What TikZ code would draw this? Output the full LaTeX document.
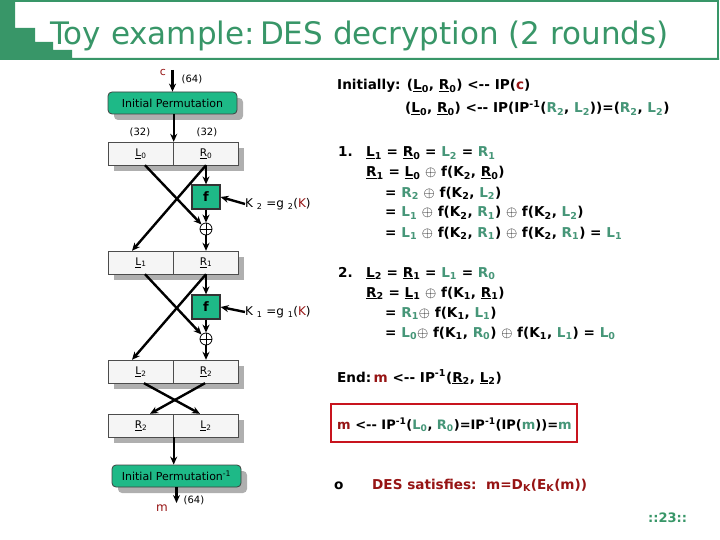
\documentclass[tikz,border=0pt]{standalone}
\usepackage{fontspec}
\setmainfont{DejaVu Sans}
\usetikzlibrary{arrows.meta,calc,shadows}
\definecolor{tgreen}{RGB}{56,150,104}
\definecolor{sgreen}{RGB}{70,150,120}
\definecolor{fgreen}{RGB}{30,185,135}
\definecolor{dred}{RGB}{150,20,20}
\definecolor{bred}{RGB}{200,20,30}
\definecolor{shgray}{RGB}{175,175,175}
\newcommand\myG[1]{\textcolor{sgreen}{#1}}
\newcommand\myU[2]{\underline{#1}\textsubscript{#2}}
\newcommand\myInv{\textsuperscript{-1}}
\begin{document}
\begin{tikzpicture}[x=1pt,y=-1pt,
  arr/.style={-{Stealth[length=8pt,width=7pt]}, line width=2.4pt},
  half/.style={draw=gray!60!black, fill=gray!8, minimum width=65pt, minimum height=23pt, inner sep=0pt, font=\fontsize{10.5}{12}\selectfont},
  ipbox/.style={draw=black!75, line width=0.8pt, fill=fgreen, rounded corners=4pt, minimum width=129pt, minimum height=22pt, inner sep=0pt, font=\fontsize{11}{13}\selectfont,
     drop shadow={shadow xshift=6pt, shadow yshift=-6pt, fill=shgray, opacity=1}},
  fbox/.style={draw=black!80, line width=1.2pt, fill=fgreen, minimum width=28pt, minimum height=24pt, inner sep=0pt, font=\fontsize{13}{15}\selectfont\bfseries},
  xor/.style={circle, draw, line width=0.8pt, minimum size=12pt, inner sep=0pt,
     path picture={\draw[line width=0.8pt] (path picture bounding box.north) -- (path picture bounding box.south) (path picture bounding box.west) -- (path picture bounding box.east);}},
  small/.style={inner sep=0pt, font=\fontsize{10}{12}\selectfont},
  klab/.style={anchor=west, inner sep=0pt, font=\fontsize{12}{14}\selectfont},
  rt/.style={anchor=base west, inner sep=0pt, font=\fontsize{13.6}{16}\selectfont\bfseries},
]
\useasboundingbox (0,0) rectangle (720,540);
% frame
\fill[tgreen] (0,0) -- (15,0) -- (15,28) -- (35,28) -- (35,42) -- (53,42) -- (53,50) -- (72,50) -- (72,58) -- (719,58) -- (719,60) -- (0,60) -- cycle;
\draw[tgreen, line width=2pt] (15,1) -- (718,1) -- (718,59);
\node[anchor=base west, inner sep=0pt, text=tgreen, font=\fontsize{31}{35}\selectfont] (title) at (50,45) {Toy example:\,DES decryption (2 rounds)};

% ---------------- diagram
\node[small, text=dred, font=\fontsize{11}{13}\selectfont] (c) at (163,72) {c};
\node[small] (c64) at (192,79) {(64)};
\coordinate (ctop) at (172.5,70);
\node[ipbox] (ip) at (172.5,103) {Initial Permutation};
\node[small] (n32a) at (140,132) {(32)};
\node[small] (n32b) at (207,132) {(32)};

% shadows of registers
\foreach \t in {142,251,360,414} {\fill[shgray] (114,\t+6) rectangle (244,\t+29);}
\node[half] (l0) at (141,153.5) {\underline{L}\textsubscript{0}};
\node[half] (r0) at (206,153.5) {\underline{R}\textsubscript{0}};
\node[half] (l1) at (141,262.5) {\underline{L}\textsubscript{1}};
\node[half] (r1) at (206,262.5) {\underline{R}\textsubscript{1}};
\node[half] (l2) at (141,371.5) {\underline{L}\textsubscript{2}};
\node[half] (r2) at (206,371.5) {\underline{R}\textsubscript{2}};
\node[half] (s1) at (141,425.5) {\underline{R}\textsubscript{2}};
\node[half] (s2) at (206,425.5) {\underline{L}\textsubscript{2}};

\node[fbox] (f1) at (206,197) {f};
\node[fbox] (f2) at (206,307) {f};
\node[xor] (x1) at (206,229) {};
\node[xor] (x2) at (206,339) {};
\node[klab] (k2) at (245,204) {K \textsubscript{2} =g \textsubscript{2}(\textcolor{dred}{K})};
\node[klab] (k1) at (245,312) {K \textsubscript{1} =g \textsubscript{1}(\textcolor{dred}{K})};

\node[ipbox] (ipi) at (176.5,476) {Initial Permutation\textsuperscript{-1}};
\coordinate (mend) at (176.5,503);
\node[small, text=dred, font=\fontsize{12}{14}\selectfont] (m) at (162,508) {m};
\node[small] (m64) at (194,500) {(64)};

% connectors
\draw[arr] (ctop) -- (ip.north);
\draw[arr] (ip.south -| l0.north east) -- (l0.north east);
% round 1
\draw[arr] (r0.south) -- (f1.north);
\draw[arr] (f1.south) -- (x1.north);
\draw[arr] ($(l0.south)+(4,0)$) -- (x1.north west);
\draw[arr] (r0.south) -- ($(l1.north)+(-9,0)$);
\draw[arr] (x1.south) -- (r1.north);
\draw[arr] (k2.west) -- (f1.east);
% round 2
\draw[arr] (r1.south) -- (f2.north);
\draw[arr] (f2.south) -- (x2.north);
\draw[arr] ($(l1.south)+(4,0)$) -- (x2.north west);
\draw[arr] (r1.south) -- ($(l2.north)+(-9,0)$);
\draw[arr] (x2.south) -- (r2.north);
\draw[arr] (k1.west) -- (f2.east);
% swap
\draw[arr] ($(l2.south)+(3,0)$) -- ($(s2.north)+(-6,0)$);
\draw[arr] ($(r2.south)+(-1,0)$) -- ($(s1.north)+(9,0)$);
\draw[arr] (s1.south east) -- (s1.south east |- ipi.north);
\draw[arr] (ipi.south) -- (mend);

% ---------------- right text
\node[rt] (i1) at (337,90) {Initially: (\myU{L}{0}, \myU{R}{0}) <-{}- IP(\textcolor{dred}{c})};
\node[rt] (i2) at (405,113) {(\myU{L}{0}, \myU{R}{0}) <-{}- IP(IP\myInv(\myG{R\textsubscript{2}}, \myG{L\textsubscript{2}}))=(\myG{R\textsubscript{2}}, \myG{L\textsubscript{2}})};

\node[rt] (a0) at (338,157) {1.};
\node[rt] (a1) at (366,157) {\myU{L}{1} = \myU{R}{0} = \myG{L\textsubscript{2}} = \myG{R\textsubscript{1}}};
\node[rt] (a2) at (366,177) {\myU{R}{1} = \myU{L}{0} $\oplus$ f(K\textsubscript{2}, \myU{R}{0})};
\node[rt] (a3) at (385,197) {= \myG{R\textsubscript{2}} $\oplus$ f(K\textsubscript{2}, \myG{L\textsubscript{2}})};
\node[rt] (a4) at (385,217) {= \myG{L\textsubscript{1}} $\oplus$ f(K\textsubscript{2}, \myG{R\textsubscript{1}}) $\oplus$ f(K\textsubscript{2}, \myG{L\textsubscript{2}})};
\node[rt] (a5) at (385,237) {= \myG{L\textsubscript{1}} $\oplus$ f(K\textsubscript{2}, \myG{R\textsubscript{1}}) $\oplus$ f(K\textsubscript{2}, \myG{R\textsubscript{1}}) = \myG{L\textsubscript{1}}};

\node[rt] (b0) at (338,277) {2.};
\node[rt] (b1) at (366,277) {\myU{L}{2} = \myU{R}{1} = \myG{L\textsubscript{1}} = \myG{R\textsubscript{0}}};
\node[rt] (b2) at (366,297) {\myU{R}{2} = \myU{L}{1} $\oplus$ f(K\textsubscript{1}, \myU{R}{1})};
\node[rt] (b3) at (385,317) {= \myG{R\textsubscript{1}}$\oplus$ f(K\textsubscript{1}, \myG{L\textsubscript{1}})};
\node[rt] (b4) at (385,337) {= \myG{L\textsubscript{0}}$\oplus$ f(K\textsubscript{1}, \myG{R\textsubscript{0}}) $\oplus$ f(K\textsubscript{1}, \myG{L\textsubscript{1}}) = \myG{L\textsubscript{0}}};

\node[rt] (e1) at (337,382) {End:\,\textcolor{dred}{m} <-{}- IP\myInv(\myU{R}{2}, \myU{L}{2})};
\draw[bred, line width=2pt] (331,404) rectangle (577,442);
\node[rt, font=\fontsize{13}{15}\selectfont\bfseries] (e2) at (337,429) {\textcolor{dred}{m} <-{}- IP\myInv(\myG{L\textsubscript{0}}, \myG{R\textsubscript{0}})=IP\myInv(IP(\myG{m}))=\myG{m}};

\node[rt] (o) at (334,489) {o};
\node[rt, text=dred] (des) at (372,489) {DES satisfies:\ \ m=D\textsubscript{K}(E\textsubscript{K}(m))};
\node[anchor=base west, inner sep=0pt, text=tgreen, font=\fontsize{13}{15}\selectfont\bfseries] (pg) at (648,522) {::23::};
\end{tikzpicture}
\end{document}
